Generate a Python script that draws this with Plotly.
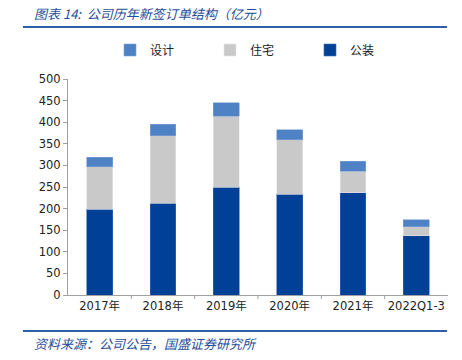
import plotly.graph_objects as go

categories = ["2017年", "2018年", "2019年", "2020年", "2021年", "2022Q1-3"]
gongzhuang = [199, 212, 249, 233, 237, 137]
zhuzhai = [98, 157, 165, 126, 50, 21]
sheji = [22, 26, 31, 23, 23, 16]

W, H = 462, 360
L, R, T, B = 68, 14, 79, 65
pw, ph = W - L - R, H - T - B

def px_x(px):
    return (px - L) / pw

def px_y(py):
    return (H - B - py) / ph

font_main = "DejaVu Sans, Noto Sans CJK SC, sans-serif"
font_cjk = "Noto Sans CJK SC, sans-serif"
blue_txt = "#1F4E9A"

fig = go.Figure()
fig.add_bar(x=categories, y=gongzhuang, name="公装", marker_color="#004097",
            marker_line_color="#3A6CB8", marker_line_width=0.6)
fig.add_bar(x=categories, y=zhuzhai, name="住宅", marker_color="#C9C9C9",
            marker_line_color="#E6E6E6", marker_line_width=0.6)
fig.add_bar(x=categories, y=sheji, name="设计", marker_color="#4F82C5",
            marker_line_color="#7FA4D8", marker_line_width=0.6)

fig.update_layout(
    width=W, height=H, barmode="stack", bargap=0.59,
    margin=dict(l=L, r=R, t=T, b=B, autoexpand=False),
    paper_bgcolor="white", plot_bgcolor="white",
    font=dict(family=font_main, size=11.5, color="#222222"),
    legend=dict(orientation="h", traceorder="reversed", x=px_x(110), y=px_y(50),
                xanchor="left", yanchor="middle", entrywidth=55,
                font=dict(family=font_cjk, size=12, color="#222222"),
                itemwidth=30),
    xaxis=dict(showline=True, linecolor="#A0A0A0", linewidth=1,
               ticks="", showgrid=False),
    yaxis=dict(range=[0, 500], dtick=50, showline=True, linecolor="#A0A0A0",
               linewidth=1, ticks="outside", ticklen=4, tickcolor="#A0A0A0",
               showgrid=False, zeroline=False),
    shapes=[
        dict(type="line", xref="paper", yref="paper", x0=px_x(23), x1=px_x(447),
             y0=px_y(27), y1=px_y(27), line=dict(color="#2E5FA8", width=2)),
        dict(type="line", xref="paper", yref="paper", x0=px_x(23), x1=px_x(447),
             y0=px_y(331), y1=px_y(331), line=dict(color="#2E5FA8", width=2)),
    ],
    annotations=[
        dict(text="<i>图表 14:  公司历年新签订单结构（亿元）</i>", xref="paper", yref="paper",
             x=px_x(32), y=px_y(13), xanchor="left", yanchor="middle", showarrow=False,
             font=dict(family=font_cjk, size=13, color=blue_txt)),
        dict(text="<i>资料来源：公司公告，国盛证券研究所</i>", xref="paper", yref="paper",
             x=px_x(32), y=px_y(343), xanchor="left", yanchor="middle", showarrow=False,
             font=dict(family=font_cjk, size=13, color=blue_txt)),
    ],
)

# small tick marks between categories on the x axis
for i in range(1, len(categories)):
    fig.add_shape(type="line", xref="x", yref="paper", x0=i - 0.5, x1=i - 0.5,
                  y0=0, y1=px_y(H - B + 4), line=dict(color="#A0A0A0", width=1))

fig.write_html("out.html", config={"displayModeBar": False},
               post_script="document.body.style.margin='0';")
